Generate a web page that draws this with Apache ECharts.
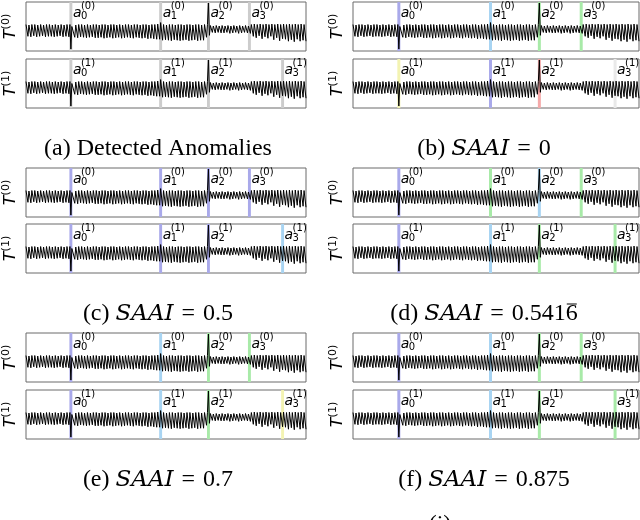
<!DOCTYPE html>
<html>
<head>
<meta charset="utf-8">
<script src="https://cdn.jsdelivr.net/npm/echarts@6/dist/echarts.min.js"></script>
<style>html,body{margin:0;padding:0;background:#fff}#main{width:640px;height:520px}</style>
</head>
<body>
<div id="main"></div>
<script>
// periodic sensor trace (height in % of the plot box)
var signal = [
  54,54,30, 53,54,29, 54,53,31, 54,54,29, 53,54,30, 54,54,31, 53,53,29, 54,54,30, 54,53,30, 53,54,29,
  54,54,30, 53,54,31, 54,53,29, 53,54,30, 54,54,29, 54,4,50,  54,54,28, 53,54,27, 54,54,29, 54,53,28,
  53,54,27, 54,54,28, 53,54,29, 54,53,27, 54,54,27, 53,54,28, 54,54,26, 54,53,27, 53,54,28, 54,54,26,
  54,53,27, 53,54,28, 54,54,26, 53,54,27, 54,54,28, 54,53,27, 53,54,26, 54,54,28, 54,53,27, 53,54,26,
  54,54,27, 54,53,25, 53,54,26, 54,54,25, 54,53,24, 55,55,24, 58,56,22, 54,54,23, 53,54,22, 54,54,21,
  54,53,23, 53,54,22, 54,54,21, 54,53,22, 53,54,23, 54,54,21, 54,53,22, 53,54,23, 54,54,21, 54,53,22,
  53,54,22, 54,54,28, 54,98,32, 52,51,38, 51,52,37, 52,51,38, 51,51,37, 52,51,37, 51,52,38, 52,51,36,
  51,52,37, 52,51,38, 51,52,36, 52,51,37, 51,52,38, 52,51,37, 51,52,36, 54,54,30, 55,54,27, 54,55,31,
  55,54,25, 54,54,29, 55,54,26, 54,55,30, 55,54,23, 54,55,27, 55,54,21, 54,55,25, 55,54,24, 54,55,20,
  55,54,23, 54,55,19, 55,54,24, 54,55,20, 55,54,22, 54,55,20
];

// anomaly positions (sample index) for T(0) and T(1)
var anomT0 = [46, 138, 187, 229];
var anomT1 = [46, 138, 187, 263];

// caption pieces
var captionHead = ['(a)', '(b)', '(c)', '(d)', '(e)', '(f)'];
var captionValue = ['', '0', '0.5', '0.541', '0.7', '0.875'];

var GR = '#cccccc', P = '#a9a9ea', B = '#a8d4f2', G = '#a8eaa8',
    Y = '#f3f3b2', R = '#f5a9a9', LG = '#e9e9e9';
// band colours per panel: [T(0) bands, T(1) bands]
var bandColors = [
  [[GR, GR, GR, GR], [GR, GR, GR, GR]],
  [[P, B, G, G], [Y, P, R, LG]],
  [[P, P, P, P], [P, P, P, B]],
  [[P, G, B, G], [P, B, G, G]],
  [[P, B, G, G], [P, B, G, Y]],
  [[P, B, G, G], [P, B, G, G]]
];

var colLeft = [21, 353], colWidth = [285, 286];
var rowTops = [[2, 59], [168, 224], [333, 390]];
var captionY = [149, 314, 480];
var captionX = [158, 484];

var chartDom = document.getElementById('main');
var myChart = echarts.init(chartDom);

var capFont = '24px "Liberation Serif"', capFontIt = 'italic 23px "DejaVu Serif"';
var ctx = document.createElement('canvas').getContext('2d');
function textW(s, f) { ctx.font = f; return ctx.measureText(s).width; }
var mathName = 'SAAI', eq = '\u2004=\u2004';

var grids = [], xAxes = [], yAxes = [], series = [], graphics = [];
var pts = signal.map(function (v, i) { return [i, v]; });

for (var p = 0; p < 6; p++) {
  var col = p % 2, row = Math.floor(p / 2);
  for (var r = 0; r < 2; r++) {
    var g = grids.length;
    grids.push({
      left: colLeft[col], top: rowTops[row][r], width: colWidth[col], height: 49,
      show: true, borderColor: '#6a6a6a', borderWidth: 1, backgroundColor: '#fff'
    });
    xAxes.push({
      gridIndex: g, type: 'value', min: 0, max: signal.length - 1,
      axisLine: { show: false }, axisTick: { show: false },
      axisLabel: { show: false }, splitLine: { show: false }
    });
    yAxes.push({
      gridIndex: g, type: 'value', min: 0, max: 100,
      axisLine: { show: false }, axisTick: { show: false },
      axisLabel: { show: false }, splitLine: { show: false },
      name: '{t|T}{s|(' + r + ')}', nameLocation: 'middle', nameRotate: 90, nameGap: 5,
      nameTextStyle: {
        rich: {
          t: { fontFamily: 'DejaVu Sans', fontStyle: 'italic', fontSize: 16, lineHeight: 20, color: '#000' },
          s: { fontFamily: 'DejaVu Sans', fontSize: 11, lineHeight: 20, verticalAlign: 'top', color: '#000' }
        }
      }
    });
    var anom = r === 0 ? anomT0 : anomT1;
    var bands = anom.map(function (pos, k) {
      return [{
        xAxis: pos - 1.5,
        itemStyle: { color: bandColors[p][r][k], opacity: 1 },
        label: {
          show: true, position: 'insideTopLeft', distance: 0, offset: [3.5, -1],
          formatter: '{p1| }{sup|(' + r + ')}\n{a|a}\n{p3| }{sub|' + k + '}'
        }
      }, { xAxis: pos + 1.5 }];
    });
    series.push({
      type: 'line', xAxisIndex: g, yAxisIndex: g, data: pts,
      showSymbol: false, silent: true, z: 3,
      lineStyle: { color: '#000', width: 1 },
      markArea: {
        silent: true, z: 1,
        label: {
          color: '#000', align: 'left', verticalAlign: 'top',
          rich: {
            p1: { width: 8, lineHeight: 10 },
            sup: { fontFamily: 'DejaVu Sans', fontSize: 10, lineHeight: 10, color: '#000' },
            a: { fontFamily: 'DejaVu Sans', fontStyle: 'italic', fontSize: 14, lineHeight: 5, color: '#000' },
            p3: { width: 8, lineHeight: 1 },
            sub: { fontFamily: 'DejaVu Sans', fontSize: 10, lineHeight: 1, color: '#000' }
          }
        },
        data: bands
      }
    });
  }

  // caption under each sub-figure
  var cx = captionX[col], cy = captionY[row];
  if (p === 0) {
    graphics.push({
      type: 'text', x: cx, y: cy,
      style: { text: '(a) Detected Anomalies', fill: '#000', font: capFont, textAlign: 'center', textVerticalAlign: 'middle' }
    });
  } else {
    var head = captionHead[p] + ' ', tail = eq + captionValue[p] + (p === 3 ? '6' : '');
    var wHead = textW(head, capFont), wMath = textW(mathName, capFontIt), wTail = textW(tail, capFont);
    var x0 = cx - (wHead + wMath + wTail) / 2;
    graphics.push({
      type: 'text', x: x0, y: cy,
      style: {
        text: head + '{m|' + mathName + '}' + tail, fill: '#000', font: capFont,
        textAlign: 'left', textVerticalAlign: 'middle',
        rich: { m: { fontFamily: 'DejaVu Serif', fontStyle: 'italic', fontSize: 23 } }
      }
    });
    if (p === 3) {
      // bar over the repeating digit
      var xb = x0 + wHead + wMath + textW(eq + captionValue[p], capFont);
      var wb = textW('6', capFont);
      graphics.push({
        type: 'line', shape: { x1: xb + 1, y1: cy - 10, x2: xb + wb - 1, y2: cy - 10 },
        style: { stroke: '#000', lineWidth: 1 }
      });
    }
  }
}
graphics.push({
  type: 'text', x: 440, y: 513,
  style: { text: '(i)', fill: '#000', font: capFont, textAlign: 'center', textVerticalAlign: 'top' }
});

var option = {
  animation: false,
  backgroundColor: '#fff',
  grid: grids,
  xAxis: xAxes,
  yAxis: yAxes,
  series: series,
  graphic: graphics
};

option && myChart.setOption(option);
</script>
</body>
</html>
